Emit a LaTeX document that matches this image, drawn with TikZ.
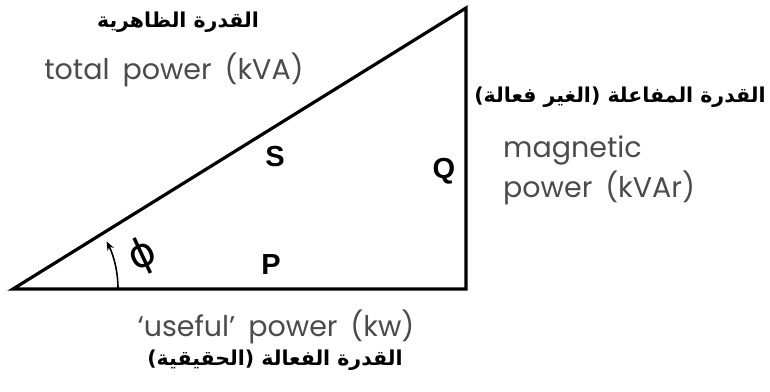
\documentclass[tikz,border=0pt]{standalone}
\usepackage{fontspec}
\setmainfont[WordSpace=1.7]{Poppins}
\newfontfamily\arabicfont[Script=Arabic]{DejaVu Sans}
\newfontfamily\symfont{DejaVu Sans}
\newfontfamily\lblfont{Liberation Sans}
\TeXXeTstate=1
\usetikzlibrary{arrows.meta}
\definecolor{txtgray}{RGB}{75,75,75}
\begin{document}
\begin{tikzpicture}[x=1pt,y=-1pt,
  side/.style={line width=3.2pt, line join=miter},
  entext/.style={text=txtgray, font=\fontsize{28.5}{32}\selectfont, inner sep=0pt, align=left},
  artext/.style={text=black, font=\arabicfont\bfseries\fontsize{20.5}{24}\selectfont, inner sep=0pt},
  letter/.style={font=\lblfont\bfseries\fontsize{29}{30}\selectfont, inner sep=0pt}]
\useasboundingbox (0,0) rectangle (770,391);
\coordinate (A) at (13,289);
\coordinate (B) at (466,289);
\coordinate (C) at (466,8);
\draw[side] (A) -- (B) -- (C) -- cycle;
\draw[line width=1.6pt, -{Stealth[length=9pt,width=7pt]}] ([shift={(105,0)}]A) arc[start angle=0, end angle=-27, radius=105];
\node[font=\symfont\fontsize{40}{40}\selectfont, inner sep=0pt, rotate=25] (phi) at (143,256) {ϕ};
\node[letter] (S) at (275,157) {S};
\node[letter] (Q) at (444,171) {Q};
\node[letter] (P) at (271,265) {P};
\node[artext] (arS) at (178,22) {\beginR القدرة الظاهرية\endR};
\node[entext] (enS) at (174,70) {total power (kVA)};
\node[artext] (arQ) at (620,97) {\beginR القدرة المفاعلة (الغير فعالة)\endR};
\node[entext, anchor=west] (enQ1) at (503,150) {magnetic};
\node[entext, anchor=west] (enQ2) at (503,188) {power (kVAr)};
\node[entext] (enP) at (276,327) {‘useful’ power (kw)};
\node[artext] (arP) at (275,360) {\beginR القدرة الفعالة (الحقيقية)\endR};
\end{tikzpicture}
\end{document}
